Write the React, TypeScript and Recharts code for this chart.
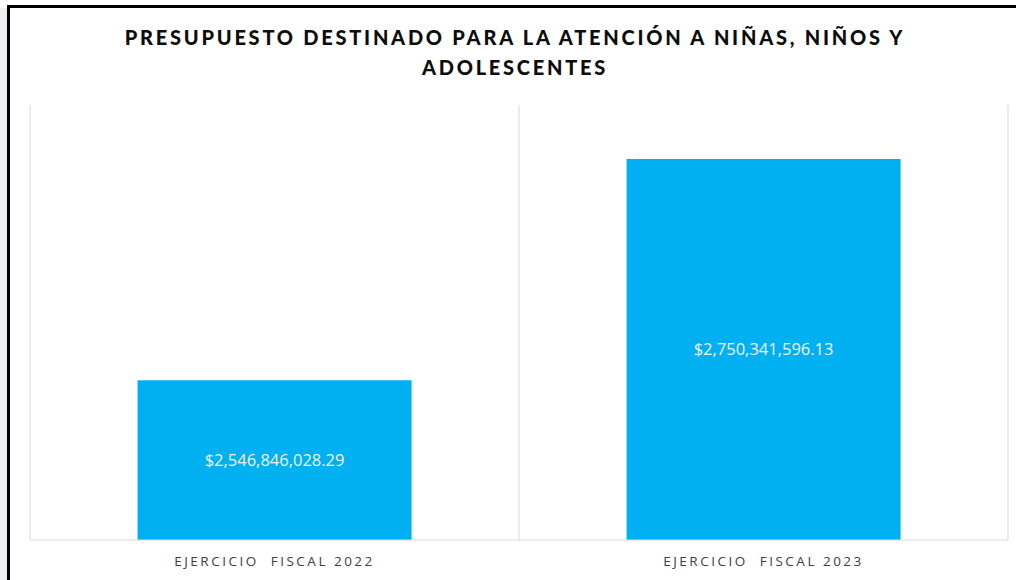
import { BarChart, Bar, XAxis, YAxis, CartesianGrid, LabelList } from "recharts";

const categories = ["EJERCICIO\u00a0 FISCAL 2022", "EJERCICIO\u00a0 FISCAL 2023"];
const budget = [2546846028.29, 2750341596.13];

const data = categories.map((c, i) => ({ name: c, value: budget[i] }));

const fmt = (v: number) =>
  "$" +
  new Intl.NumberFormat("en-US", { minimumFractionDigits: 2, maximumFractionDigits: 2 }).format(v);

// grid lines between categories, not at their centres
const boundaryLines = ({ offset }: any) => {
  const step = offset.width / categories.length;
  return categories.map((_, i) => offset.left + step * i).concat(offset.left + offset.width);
};

export default function App() {
  return (
    <div
      style={{
        position: "fixed",
        left: 0,
        top: 0,
        width: 1016,
        height: 580,
        background: "#ffffff",
        overflow: "hidden",
      }}
    >
      <div style={{ position: "absolute", left: 0, top: 8, width: 7, height: 572, background: "#f0f0f2" }} />
      <div style={{ position: "absolute", left: 7, top: 5, width: 1009, height: 3, background: "#000" }} />
      <div style={{ position: "absolute", left: 7, top: 5, width: 3, height: 575, background: "#000" }} />
      <div
        style={{
          position: "absolute",
          left: 10,
          top: 22,
          width: 1010,
          textAlign: "center",
          fontFamily: "Lato, 'Open Sans', sans-serif",
          fontWeight: 900,
          fontSize: 20,
          letterSpacing: 2.75,
          lineHeight: "30px",
          color: "#0d0d0d",
        }}
      >
        PRESUPUESTO DESTINADO PARA LA ATENCIÓN A NIÑAS, NIÑOS Y
        <br />
        ADOLESCENTES
      </div>
      <div style={{ position: "absolute", left: 0, top: 0 }}>
        <BarChart
          width={1016}
          height={580}
          data={data}
          margin={{ top: 105, right: 8, bottom: 0, left: 30 }}
          barCategoryGap="22%"
        >
          <CartesianGrid
            horizontal={false}
            stroke="#d9d9d9"
            verticalCoordinatesGenerator={boundaryLines}
          />
          <XAxis
            dataKey="name"
            height={40}
            axisLine={{ stroke: "#d9d9d9" }}
            tickLine={false}
            tickMargin={10}
            tick={{
              fill: "#404040",
              fontSize: 13.5,
              fontFamily: "'Open Sans', sans-serif",
              letterSpacing: 2.5,
            }}
          />
          <YAxis hide domain={[2400000000, 2800000000]} allowDataOverflow />
          <Bar dataKey="value" fill="#00b0f0" isAnimationActive={false}>
            <LabelList
              dataKey="value"
              position="center"
              formatter={(v: any) => fmt(Number(v))}
              fill="#f2f2f2"
              fontSize={16.5}
              fontFamily="'Open Sans', sans-serif"
            />
          </Bar>
        </BarChart>
      </div>
    </div>
  );
}
